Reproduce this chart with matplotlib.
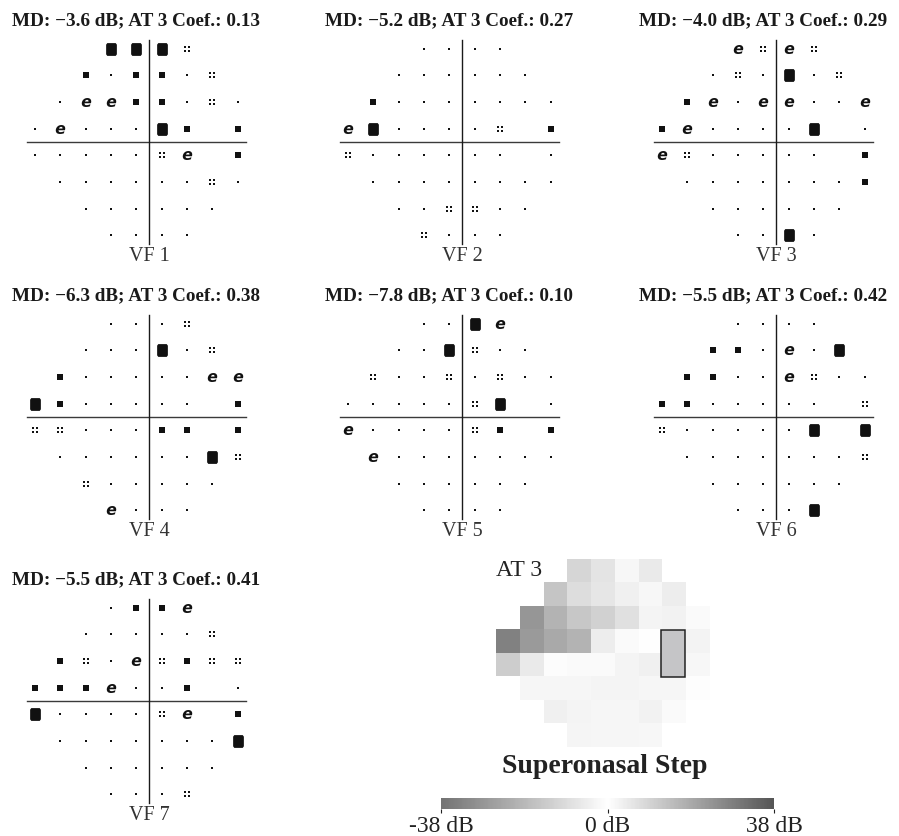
import matplotlib
matplotlib.use("Agg")
import matplotlib.pyplot as plt
import numpy as np
from matplotlib.colors import LinearSegmentedColormap
from matplotlib.path import Path
from matplotlib.patches import Rectangle

plt.rcParams["font.family"] = ["Liberation Serif", "DejaVu Serif"]

# 24-2 test locations in degrees, top row first; blind spot at x=15, y=+/-3
ROW_Y = [21, 15, 9, 3, -3, -9, -15, -21]
ROW_X = [
    [-9, -3, 3, 9],
    [-15, -9, -3, 3, 9, 15],
    [-21, -15, -9, -3, 3, 9, 15, 21],
    [-27, -21, -15, -9, -3, 3, 9, 21],
    [-27, -21, -15, -9, -3, 3, 9, 21],
    [-21, -15, -9, -3, 3, 9, 15, 21],
    [-15, -9, -3, 3, 9, 15],
    [-9, -3, 3, 9],
]
BLIND_X = 15

MD = [-3.6, -5.2, -4.0, -6.3, -7.8, -5.5, -5.5]
COEF = [0.13, 0.27, 0.29, 0.38, 0.10, 0.42, 0.41]

# grayscale symbol level per location (0 dot, 1 four dots, 2 swirl, 3 square, 4 blob)
VF1 = [[4, 4, 4, 1], [3, 0, 3, 3, 0, 1], [0, 2, 2, 3, 3, 0, 1, 0], [0, 2, 0, 0, 0, 4, 3, 3],
       [0, 0, 0, 0, 0, 1, 2, 3], [0, 0, 0, 0, 0, 0, 1, 0], [0, 0, 0, 0, 0, 0], [0, 0, 0, 0]]
VF2 = [[0, 0, 0, 0], [0, 0, 0, 0, 0, 0], [3, 0, 0, 0, 0, 0, 0, 0], [2, 4, 0, 0, 0, 0, 1, 3],
       [1, 0, 0, 0, 0, 0, 0, 0], [0, 0, 0, 0, 0, 0, 0, 0], [0, 0, 1, 1, 0, 0], [1, 0, 0, 0]]
VF3 = [[2, 1, 2, 1], [0, 1, 0, 4, 0, 1], [3, 2, 0, 2, 2, 0, 0, 2], [3, 2, 0, 0, 0, 0, 4, 0],
       [2, 1, 0, 0, 0, 0, 0, 3], [0, 0, 0, 0, 0, 0, 0, 3], [0, 0, 0, 0, 0, 0], [0, 0, 4, 0]]
VF4 = [[0, 0, 0, 1], [0, 0, 0, 4, 0, 1], [3, 0, 0, 0, 0, 0, 2, 2], [4, 3, 0, 0, 0, 0, 0, 3],
       [1, 1, 0, 0, 0, 3, 3, 3], [0, 0, 0, 0, 0, 0, 4, 1], [1, 0, 0, 0, 0, 0], [2, 0, 0, 0]]
VF5 = [[0, 0, 4, 2], [0, 0, 4, 1, 0, 0], [1, 0, 0, 1, 0, 1, 0, 0], [0, 0, 0, 0, 0, 1, 4, 0],
       [2, 0, 0, 0, 0, 1, 3, 3], [2, 0, 0, 0, 0, 0, 0, 0], [0, 0, 0, 0, 0, 0], [0, 0, 0, 0]]
VF6 = [[0, 0, 0, 0], [3, 3, 0, 2, 0, 4], [3, 3, 0, 0, 2, 1, 0, 0], [3, 3, 0, 0, 0, 0, 0, 1],
       [1, 0, 0, 0, 0, 0, 4, 4], [0, 0, 0, 0, 0, 0, 0, 1], [0, 0, 0, 0, 0, 0], [0, 0, 0, 4]]
VF7 = [[0, 3, 3, 2], [0, 0, 0, 0, 0, 1], [3, 1, 0, 2, 1, 3, 1, 1], [3, 3, 3, 2, 0, 0, 3, 0],
       [4, 0, 0, 0, 0, 1, 2, 3], [0, 0, 0, 0, 0, 0, 0, 4], [0, 0, 0, 0, 0, 0], [0, 0, 0, 1]]
VFS = [VF1, VF2, VF3, VF4, VF5, VF6, VF7]

# archetype 3 values in dB, same layout
AT3 = [
    [-10.9, -7.3, -1.9, -5.4],
    [-15.5, -9.0, -6.8, -4.1, -1.9, -4.6],
    [-28.5, -20.4, -14.9, -12.2, -8.1, -2.7, -3.5, -1.4],
    [-33.9, -27.1, -23.1, -20.4, -4.6, -1.2, 0.0, -3.1],
    [-13.6, -5.4, -0.6, -1.4, -1.4, -2.7, -4.1, -1.9],
    [-2.2, -2.2, -2.2, -2.7, -2.7, -2.2, -2.2, -0.3],
    [-4.1, -2.7, -2.2, -2.2, -3.5, -1.4],
    [-2.4, -2.2, -2.2, -1.9],
]
CBAR_TICKS = [-38, 0, 38]
CBAR_LABELS = ["-38 dB", "0 dB", "38 dB"]

W, H = 899, 837


def px_axes(fig, left, top, w, h):
    return fig.add_axes([left / W, 1 - (top + h) / H, w / W, h / H])


def four_dots():
    squares = []
    for dx in (-1, 1):
        for dy in (-1, 1):
            squares.append(Path.unit_rectangle().transformed(
                matplotlib.transforms.Affine2D().scale(0.8).translate(dx - 0.4, dy - 0.4)))
    return Path.make_compound_path(*squares)


BLOB = Path([(-0.33, -0.5), (0.33, -0.5), (0.42, -0.38), (0.42, 0.38), (0.33, 0.5),
             (-0.33, 0.5), (-0.42, 0.38), (-0.42, -0.38), (-0.33, -0.5)], closed=True)

MARKERS = {
    0: dict(marker="s", s=1.7 ** 2),
    1: dict(marker=four_dots(), s=4.0 ** 2),
    2: dict(marker=r"$\mathbfit{e}$", s=6.8 ** 2),
    3: dict(marker="s", s=4.8 ** 2),
    4: dict(marker=BLOB, s=9.2 ** 2),
}

xs_all = np.concatenate([np.array(r) for r in ROW_X])
ys_all = np.concatenate([np.full(len(r), y) for r, y in zip(ROW_X, ROW_Y)])

fig = plt.figure(figsize=(W / 100, H / 100), dpi=100)

# visual field panels
col_cx = [149, 462, 776]
row_cy = [143, 418, 702]
sx, sy = 25.3 / 6, 26.7 / 6
for i, vf in enumerate(VFS):
    cx, cy = col_cx[i % 3], row_cy[i // 3]
    ax = px_axes(fig, cx - 33 * sx, cy - 27 * sy, 60 * sx, 54 * sy)
    ax.set_xlim(-33, 27)
    ax.set_ylim(-27, 27)
    ax.axis("off")
    levels = np.concatenate([np.array(r) for r in vf])
    ax.plot([-29, 23], [0, 0], color="#3a3a3a", lw=1.0)
    ax.plot([0, 0], [-23, 23], color="#1a1a1a", lw=1.0)
    for lev, kw in MARKERS.items():
        m = levels == lev
        ax.scatter(xs_all[m], ys_all[m], color="#111111", linewidths=0, **kw)
    title = f"MD: {MD[i]:.1f} dB; AT 3 Coef.: {COEF[i]:.2f}".replace("-", "\u2212")
    ax.text(-3, 27.4, title, ha="center", va="center", fontsize=13.8, fontweight="bold",
            color="#1a1a1a", clip_on=False)
    ax.text(0, -23.4, f"VF {i + 1}", ha="center", va="top", fontsize=14.5,
            color="#333333", clip_on=False)

# archetype heatmap
cmap = LinearSegmentedColormap.from_list("at", ["#737373", "#ffffff", "#555555"])
cols = sorted(set(xs_all))
grid = np.full((len(ROW_Y), len(cols)), np.nan)
for r, (xr, vals) in enumerate(zip(ROW_X, AT3)):
    for x, v in zip(xr, vals):
        grid[r, cols.index(x)] = v
grid = np.ma.masked_invalid(grid)

hx, hy = 23.7 / 6, 23.5 / 6
hax = px_axes(fig, 614 - 30 * hx, 654 - 24 * hy, 54 * hx, 48 * hy)
im = hax.imshow(grid, cmap=cmap, vmin=-38, vmax=38, extent=(-30, 24, -24, 24),
                origin="upper", aspect="auto", interpolation="nearest")
hax.add_patch(Rectangle((BLIND_X - 3, -6), 6, 12, facecolor="#c5c5c7",
                        edgecolor="#222222", lw=1.1))
hax.set_xlim(-30, 24)
hax.set_ylim(-24, 24)
hax.axis("off")
hax.text(-24, 21.2, "AT 3", ha="center", va="center", fontsize=17, color="#222222")

fig.text(605 / W, 1 - 767 / H, "Superonasal Step", ha="center", va="center",
         fontsize=20, fontweight="bold", color="#222222")

cax = px_axes(fig, 441, 799, 333, 11)
cb = fig.colorbar(im, cax=cax, orientation="horizontal", ticks=CBAR_TICKS)
cb.outline.set_visible(False)
cb.ax.set_xticklabels(CBAR_LABELS)
cb.ax.tick_params(labelsize=17, length=3, width=0.8, pad=1, colors="#222222")

fig.savefig("out.png", dpi=100)
